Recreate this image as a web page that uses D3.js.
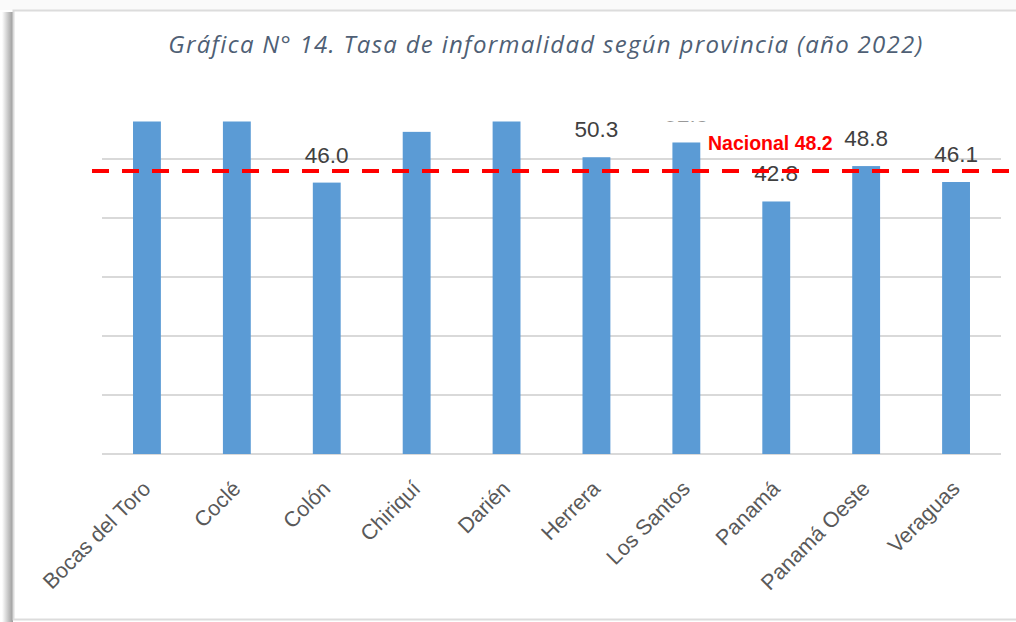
<!DOCTYPE html>
<html lang="es">
<head>
<meta charset="UTF-8">
<title>Tasa de informalidad según provincia</title>
<script src="https://cdn.jsdelivr.net/npm/d3@7"></script>
<style>
body { margin: 0; background: #fff; }
svg { display: block; }
</style>
</head>
<body>
<div id="chart"></div>
<script>
// data
const provinces = ["Bocas del Toro", "Coclé", "Colón", "Chiriquí", "Darién",
    "Herrera", "Los Santos", "Panamá", "Panamá Oeste", "Veraguas"];
// first, second and fifth bars run past the top of the plot, values estimated
const rates = [64.9, 58.6, 46.0, 54.6, 63.7, 50.3, 52.8, 42.8, 48.8, 46.1];
const nationalRate = 48.2;
const nationalLabel = "Nacional 48.2";
const gridTicks = [0, 10, 20, 30, 40, 50];
const title = "Gráfica N° 14. Tasa de informalidad según provincia (año 2022)";

const WIDTH = 1016;
const HEIGHT = 622;
const PLOT_LEFT = 102;
const PLOT_RIGHT = 1001;
const PLOT_TOP = 121.5;
const BASE_Y = 454;

const svg = d3.select("#chart").append("svg")
    .attr("width", WIDTH)
    .attr("height", HEIGHT);

// frame with a soft shadow on the left
const defs = svg.append("defs");
const grad = defs.append("linearGradient").attr("id", "shadow");
grad.append("stop").attr("offset", "0%").attr("stop-color", "#fff");
grad.append("stop").attr("offset", "100%").attr("stop-color", "#9a9a9a");
svg.append("rect").attr("x", 0).attr("y", 0).attr("width", WIDTH).attr("height", 10)
    .attr("fill", "#fafafa");
svg.append("rect").attr("x", 2).attr("y", 12).attr("width", 11).attr("height", HEIGHT - 12)
    .attr("fill", "url(#shadow)");
svg.append("rect").attr("x", 13.5).attr("y", 10.5).attr("width", WIDTH).attr("height", 609)
    .attr("fill", "#fff").attr("stroke", "#dcdcdc").attr("stroke-width", 2);

defs.append("clipPath").attr("id", "plot-clip")
    .append("rect")
    .attr("x", 0).attr("y", PLOT_TOP)
    .attr("width", WIDTH).attr("height", HEIGHT - PLOT_TOP);

const x = d3.scaleBand()
    .domain(provinces)
    .range([PLOT_LEFT, PLOT_RIGHT])
    .paddingInner(0.69)
    .paddingOuter(0.345);

const y = d3.scaleLinear()
    .domain([0, 50])
    .range([BASE_Y, 159]);

// title
svg.append("text")
    .attr("x", 546)
    .attr("y", 53)
    .attr("text-anchor", "middle")
    .style("font", "italic 24px 'Open Sans', sans-serif")
    .style("letter-spacing", "1.3px")
    .attr("fill", "#4f5f75")
    .text(title);

// horizontal gridlines
svg.append("g")
    .selectAll("line")
    .data(gridTicks)
    .join("line")
    .attr("x1", PLOT_LEFT)
    .attr("x2", PLOT_RIGHT)
    .attr("y1", d => y(d))
    .attr("y2", d => y(d))
    .attr("stroke", "#d9d9d9")
    .attr("stroke-width", 2);

const plot = svg.append("g").attr("clip-path", "url(#plot-clip)");

plot.selectAll("rect.bar")
    .data(provinces)
    .join("rect")
    .attr("class", "bar")
    .attr("x", d => x(d))
    .attr("width", x.bandwidth())
    .attr("y", (d, i) => y(rates[i]))
    .attr("height", (d, i) => y(0) - y(rates[i]))
    .attr("fill", "#5b9bd5");

plot.selectAll("text.value")
    .data(provinces)
    .join("text")
    .attr("class", "value")
    .attr("x", d => x(d) + x.bandwidth() / 2)
    .attr("y", (d, i) => y(rates[i]) - 20)
    .attr("text-anchor", "middle")
    .style("font", "22.5px 'Liberation Sans', Arial, sans-serif")
    .attr("fill", "#404040")
    .text((d, i) => rates[i].toFixed(1));

// category labels, rotated
svg.append("g")
    .selectAll("text")
    .data(provinces)
    .join("text")
    .attr("transform", d => `translate(${x(d) + x.bandwidth() / 2 + 5},${BASE_Y + 36}) rotate(-45)`)
    .attr("text-anchor", "end")
    .style("font", "21.5px 'Liberation Sans', Arial, sans-serif")
    .attr("fill", "#595959")
    .text(d => d);

// national reference line
svg.append("line")
    .attr("x1", 92)
    .attr("x2", WIDTH)
    .attr("y1", y(nationalRate) + 1.5)
    .attr("y2", y(nationalRate) + 1.5)
    .attr("stroke", "#ff0000")
    .attr("stroke-width", 4)
    .attr("stroke-dasharray", "17 13");

svg.append("text")
    .attr("x", 708)
    .attr("y", 150)
    .style("font", "bold 19.5px 'Liberation Sans', Arial, sans-serif")
    .attr("fill", "#ff0000")
    .text(nationalLabel);
</script>
</body>
</html>
